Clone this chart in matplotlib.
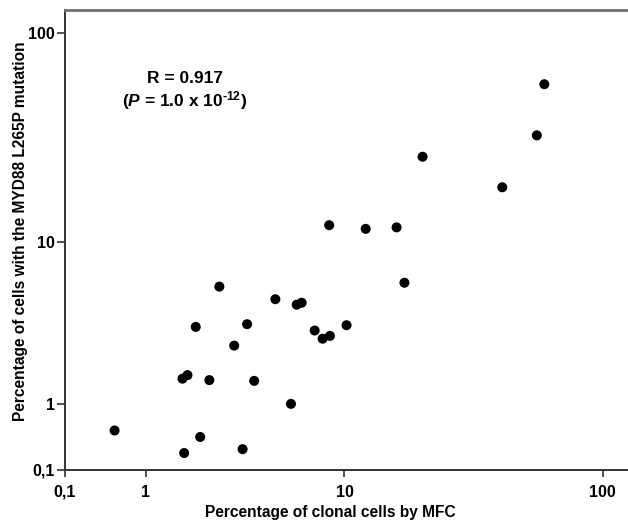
import numpy as np
import matplotlib
matplotlib.use('Agg')
import matplotlib.pyplot as plt

# values (percent), axis drawn as log10(v + 1)
mfc_pct = [0.53, 1.78, 2.19, 3.59, 1.74, 1.86, 2.45, 4.07, 5.95, 3.27,
           2.07, 3.77, 2.76, 5.08, 6.30, 6.62, 7.52, 8.12, 8.71, 10.2,
           17.4, 8.65, 12.2, 16.2, 20.5, 41.6, 56.3, 60.1]
myd88_pct = [0.51, 0.19, 0.41, 0.24, 1.61, 1.71, 1.57, 1.55, 1.00, 2.70,
             3.51, 3.64, 5.90, 5.04, 4.70, 4.82, 3.34, 2.98, 3.10, 3.59,
             6.19, 12.2, 11.7, 11.9, 26.2, 18.7, 33.1, 57.5]
tick_vals = [0, 1, 10, 100]
tick_text = ['0,1', '1', '10', '100']

plt.rcParams.update({
    'font.family': ['Liberation Sans', 'DejaVu Sans'],
    'font.weight': 'bold',
    'mathtext.fontset': 'custom',
    'mathtext.rm': 'Liberation Sans:bold',
    'mathtext.it': 'Liberation Sans:italic:bold',
    'mathtext.default': 'rm',
})


def fwd(v):
    return np.log10(np.clip(v, -0.999, None) + 1)


def inv(v):
    return 10 ** v - 1


fig = plt.figure(figsize=(6.28, 5.23), dpi=100)
ax = fig.add_axes([65 / 628, 53.5 / 523, 563 / 628, 460 / 523])

ax.set_xscale('function', functions=(fwd, inv))
ax.set_yscale('function', functions=(fwd, inv))
ax.scatter(mfc_pct, myd88_pct, s=52, color='black', edgecolors='none',
           zorder=3, clip_on=False)

ax.set_xlim(0, 124.3)
ax.set_ylim(0, 127.8)
ax.set_xticks(tick_vals)
ax.set_xticklabels(tick_text)
ax.set_yticks(tick_vals)
ax.set_yticklabels(tick_text)
ax.minorticks_off()

ax.tick_params(axis='x', direction='out', length=5, width=1.2,
               labelsize=11.5, pad=6, color='#333333')
ax.tick_params(axis='y', direction='out', length=5.5, width=1.2,
               labelsize=11.5, pad=2, color='#333333')

for side in ['left', 'bottom']:
    ax.spines[side].set_color('#333333')
    ax.spines[side].set_linewidth(1.4)
ax.spines['top'].set_color('#707070')
ax.spines['top'].set_linewidth(2)
ax.spines['right'].set_visible(False)

ax.set_xlabel('Percentage of clonal cells by MFC', fontsize=11.2,
              fontweight='bold')
ax.set_ylabel('Percentage of cells with the MYD88 L265P mutation',
              fontsize=11.2, fontweight='bold')
ax.xaxis.set_label_coords(0.4707, -0.077)
ax.yaxis.set_label_coords(-0.066, 0.517)

ax.text(0.213, 0.851, 'R = 0.917', transform=ax.transAxes,
        ha='center', va='center', fontsize=12.5, fontweight='bold')
ax.text(0.213, 0.803, r'($\it{P}$ = 1.0 x 10$^{\text{-12}}$)',
        transform=ax.transAxes, ha='center', va='center',
        fontsize=12.5, fontweight='bold')

fig.savefig('out.png', dpi=100, facecolor='white')
plt.close(fig)
